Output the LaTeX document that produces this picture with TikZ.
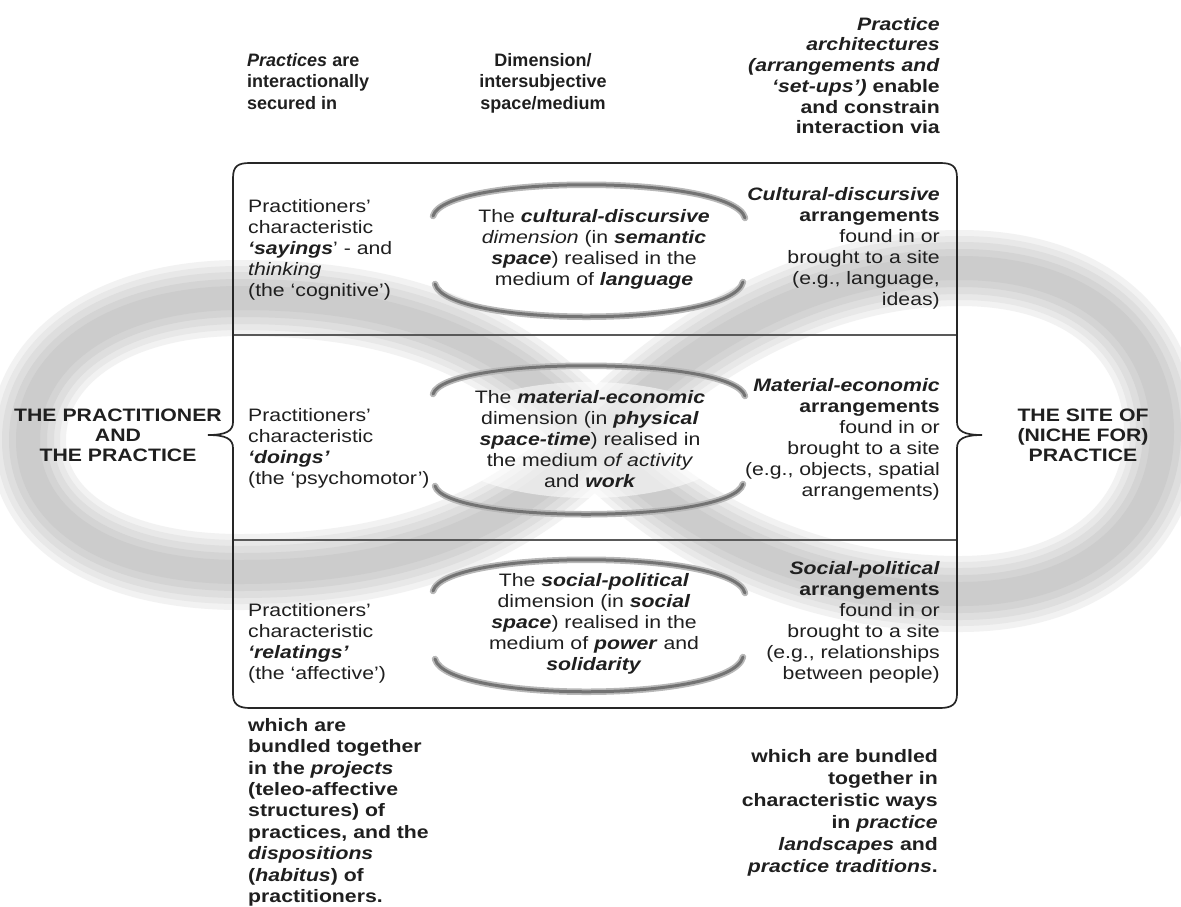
\documentclass[tikz,border=0pt]{standalone}
\usepackage{fontspec}
\setmainfont{Liberation Sans}[FakeStretch=1.18]
\newfontfamily\plainsans{Liberation Sans}
\begin{document}
\begin{tikzpicture}[x=1pt,y=-1pt,
  txt/.style={inner sep=0pt, font=\fontsize{18}{21}\selectfont, text=black!88,
    execute at begin node={\rule{0pt}{14pt}}},
  lft/.style={txt, anchor=north west, align=left},
  rgt/.style={txt, anchor=north east, align=right},
  ctr/.style={txt, anchor=north, align=center},
  boxline/.style={line width=1.7pt, draw=black!85, line cap=round},
  divline/.style={line width=1.7pt, draw=black!65},
  arcsoft/.style={line width=6.5pt, draw=black!28, line cap=round},
  arccore/.style={line width=3pt, draw=black!55, line cap=round},
]
\useasboundingbox (0,0) rectangle (1181,906);
\fill[white] (0,0) rectangle (1181,906);

% infinity band
\foreach \w/\c in {76/5,64/9,52/13,38/17,24/20}{
  \draw[line width=\w pt, draw=black!\c, line join=round]
    (595,440) .. controls (500,330) and (380,298) .. (240,298)
    .. controls (110,298) and (28,360) .. (28,440)
    .. controls (28,520) and (110,572) .. (240,572)
    .. controls (380,572) and (500,540) .. (595,440)
    .. controls (690,340) and (820,268) .. (960,268)
    .. controls (1100,268) and (1162,350) .. (1162,432)
    .. controls (1162,520) and (1090,594) .. (960,594)
    .. controls (820,594) and (690,540) .. (595,440);
}

% ellipses (arc pairs)
\foreach \cy/\t/\b/\te/\be in {250/76/78/34/34, 440/84/84/46/46, 625/76/78/34/34}{
  \fill[white, opacity=0.55] (588,\cy) ellipse (150pt and 58pt);
  \foreach \st in {arcsoft, arccore}{
    \draw[\st] (433,\cy-\te) .. controls (445,\cy-\t) and (733,\cy-\t) .. (745,\cy-\te+2);
    \draw[\st] (435,\cy+\be) .. controls (447,\cy+\b) and (731,\cy+\b) .. (743,\cy+\be-2);
  }
}

% box with braces
\coordinate (ltip) at (208,435);
\coordinate (rtip) at (982,435);
\draw[boxline] (250,163) -- (940,163);
\draw[boxline] (250,708) -- (940,708);
\draw[divline] (233,335) -- (957,335);
\draw[divline] (233,540) -- (957,540);
\draw[boxline] (250,163) .. controls (238,163) and (233,166) .. (233,178) -- (233,422)
  .. controls (233,431) and (226,435) .. (ltip)
  .. controls (226,435) and (233,439) .. (233,448) -- (233,694)
  .. controls (233,704) and (238,708) .. (250,708);
\draw[boxline] (940,163) .. controls (952,163) and (957,166) .. (957,178) -- (957,422)
  .. controls (957,431) and (964,435) .. (rtip)
  .. controls (964,435) and (957,439) .. (957,448) -- (957,694)
  .. controls (957,704) and (952,708) .. (940,708);

% top texts
\node[lft, font=\plainsans\fontsize{18}{21.5}\selectfont\bfseries] (tl) at (247,53)
  {\textit{Practices} are\\interactionally\\secured in};
\node[ctr, font=\plainsans\fontsize{18}{21.5}\selectfont\bfseries] (tc) at (543,53)
  {Dimension/\\intersubjective\\space/medium};
\node[rgt, font=\fontsize{18}{20.7}\selectfont\bfseries] (tr) at (940,17)
  {\textit{Practice}\\\textit{architectures}\\\textit{(arrangements and}\\\textit{‘set-ups’)} enable\\and constrain\\interaction via};

% row 1
\node[lft] (r1l) at (248,199)
  {Practitioners’\\characteristic\\\textbf{\textit{‘sayings}}’ - and\\\textit{thinking}\\(the ‘cognitive’)};
\node[ctr] (r1c) at (594,209)
  {The \textbf{\textit{cultural-discursive}}\\\textit{dimension} (in \textbf{\textit{semantic}}\\\textbf{\textit{space}}) realised in the\\medium of \textbf{\textit{language}}};
\node[rgt] (r1r) at (940,187)
  {\textbf{\textit{Cultural-discursive}}\\\textbf{arrangements}\\found in or\\brought to a site\\(e.g., language,\\ideas)};

% row 2
\node[lft] (r2l) at (248,408)
  {Practitioners’\\characteristic\\\textbf{\textit{‘doings’}}\\(the ‘psychomotor’)};
\node[ctr] (r2c) at (590,390)
  {The \textbf{\textit{material-economic}}\\dimension (in \textbf{\textit{physical}}\\\textbf{\textit{space-time}}) realised in\\the medium \textit{of activity}\\and \textbf{\textit{work}}};
\node[rgt] (r2r) at (940,378)
  {\textbf{\textit{Material-economic}}\\\textbf{arrangements}\\found in or\\brought to a site\\(e.g., objects, spatial\\arrangements)};

% row 3
\node[lft] (r3l) at (248,603)
  {Practitioners’\\characteristic\\\textbf{\textit{‘relatings’}}\\(the ‘affective’)};
\node[ctr] (r3c) at (594,573)
  {The \textbf{\textit{social-political}}\\dimension (in \textbf{\textit{social}}\\\textbf{\textit{space}}) realised in the\\medium of \textbf{\textit{power}} and\\\textbf{\textit{solidarity}}};
\node[rgt] (r3r) at (940,561)
  {\textbf{\textit{Social-political}}\\\textbf{arrangements}\\found in or\\brought to a site\\(e.g., relationships\\between people)};

% side labels
\node[ctr, font=\fontsize{18}{20}\selectfont\bfseries, anchor=north] (prac) at (118,409)
  {THE PRACTITIONER\\AND\\THE PRACTICE};
\node[ctr, font=\fontsize{18}{20}\selectfont\bfseries, anchor=north] (site) at (1083,409)
  {THE SITE OF\\(NICHE FOR)\\PRACTICE};

% bottom texts
\node[lft, font=\fontsize{18}{21.4}\selectfont\bfseries] (bl) at (248,718)
  {which are\\bundled together\\in the \textit{projects}\\(teleo-affective\\structures) of\\practices, and the\\\textit{dispositions}\\(\textit{habitus}) of\\practitioners.};
\node[rgt, font=\fontsize{18}{22}\selectfont\bfseries] (br) at (938,749)
  {which are bundled\\together in\\characteristic ways\\in \textit{practice}\\\textit{landscapes} and\\\textit{practice traditions}.};
\end{tikzpicture}
\end{document}
